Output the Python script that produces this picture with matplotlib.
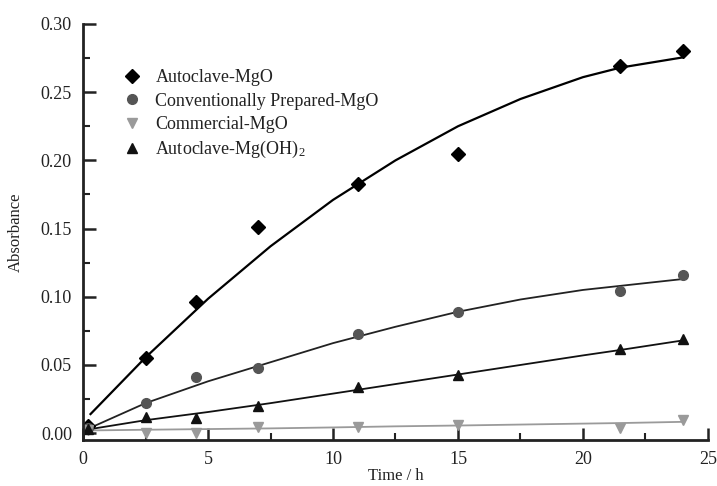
import matplotlib.pyplot as plt
import numpy as np

plt.rcParams['font.family'] = ['Liberation Serif', 'DejaVu Serif']
plt.rcParams['mathtext.fontset'] = 'custom'
plt.rcParams['mathtext.rm'] = 'Liberation Serif'
plt.rcParams['mathtext.it'] = 'Liberation Serif:italic'

# measured points
t_pts = [0.2, 2.5, 4.5, 7, 11, 15, 21.5, 24]
auto_mgo = [0.005, 0.055, 0.096, 0.151, 0.183, 0.205, 0.269, 0.280]
conv_mgo = [0.004, 0.022, 0.041, 0.048, 0.073, 0.089, 0.104, 0.116]
comm_mgo = [0.002, 0.000, 0.000, 0.0046, 0.0046, 0.006, 0.0035, 0.010]
auto_oh = [0.003, 0.012, 0.011, 0.020, 0.034, 0.043, 0.062, 0.069]

# fitted curves
t_fit = [0.3, 2.5, 5, 7.5, 10, 12.5, 15, 17.5, 20, 21.5, 24]
auto_mgo_fit = [0.014, 0.0555, 0.0985, 0.137, 0.171, 0.200, 0.225, 0.245, 0.261, 0.268, 0.2755]
conv_mgo_fit = [0.004, 0.022, 0.038, 0.052, 0.066, 0.078, 0.089, 0.098, 0.105, 0.108, 0.113]
comm_mgo_fit = [0.002, 0.0025, 0.003, 0.0035, 0.0042, 0.005, 0.0056, 0.0063, 0.007, 0.0074, 0.0083]
auto_oh_fit = [0.003, 0.0095, 0.0155, 0.022, 0.029, 0.036, 0.043, 0.050, 0.057, 0.061, 0.068]

fig = plt.figure(figsize=(7.17, 4.86), dpi=100)
ax = fig.add_axes([0.1158, 0.0947, 0.8716, 0.856])

ax.plot(t_fit, auto_mgo_fit, color='black', lw=1.6)
ax.plot(t_fit, conv_mgo_fit, color='#222222', lw=1.3)
ax.plot(t_fit, comm_mgo_fit, color='#9a9a9a', lw=1.3)
ax.plot(t_fit, auto_oh_fit, color='#111111', lw=1.3)

ax.plot(t_pts, auto_mgo, 'D', color='black', ms=7, ls='none', label='Autoclave-MgO')
ax.plot(t_pts, conv_mgo, 'o', color='#555555', ms=7, ls='none', label='Conventionally Prepared-MgO')
ax.plot(t_pts, comm_mgo, 'v', color='#9a9a9a', ms=7, ls='none', label='Commercial-MgO')
ax.plot(t_pts, auto_oh, '^', color='#111111', ms=7, ls='none', label='Autoclave-Mg(OH)$_2$')

ax.set_xlim(0, 25)
ax.set_ylim(-0.005, 0.30)
ax.set_xticks([0, 5, 10, 15, 20, 25])
ax.set_xticks([2.5, 7.5, 12.5, 17.5, 22.5], minor=True)
ax.set_yticks([0.0, 0.05, 0.10, 0.15, 0.20, 0.25, 0.30])
ax.set_yticks([0.025, 0.075, 0.125, 0.175, 0.225, 0.275], minor=True)
ax.set_yticklabels(['0.00', '0.05', '0.10', '0.15', '0.20', '0.25', '0.30'])

for s in ['top', 'right']:
    ax.spines[s].set_visible(False)
for s in ['left', 'bottom']:
    ax.spines[s].set_linewidth(2)
    ax.spines[s].set_color('#222222')

ax.tick_params(which='major', direction='in', length=9, width=1.8, labelsize=13,
               colors='#222222', pad=8)
ax.tick_params(which='minor', direction='in', length=5, width=1.5, colors='#222222')

ax.set_xlabel('Time / h', fontsize=12, color='#222222', labelpad=0)
ax.set_ylabel('Absorbance', fontsize=12, color='#222222', labelpad=12)

ax.legend(loc='upper left', bbox_to_anchor=(0.035, 0.93), frameon=False, fontsize=13,
          handletextpad=0.7, labelspacing=0.35, handlelength=1.2, labelcolor='#222222')

fig.savefig('out.png', dpi=100)
